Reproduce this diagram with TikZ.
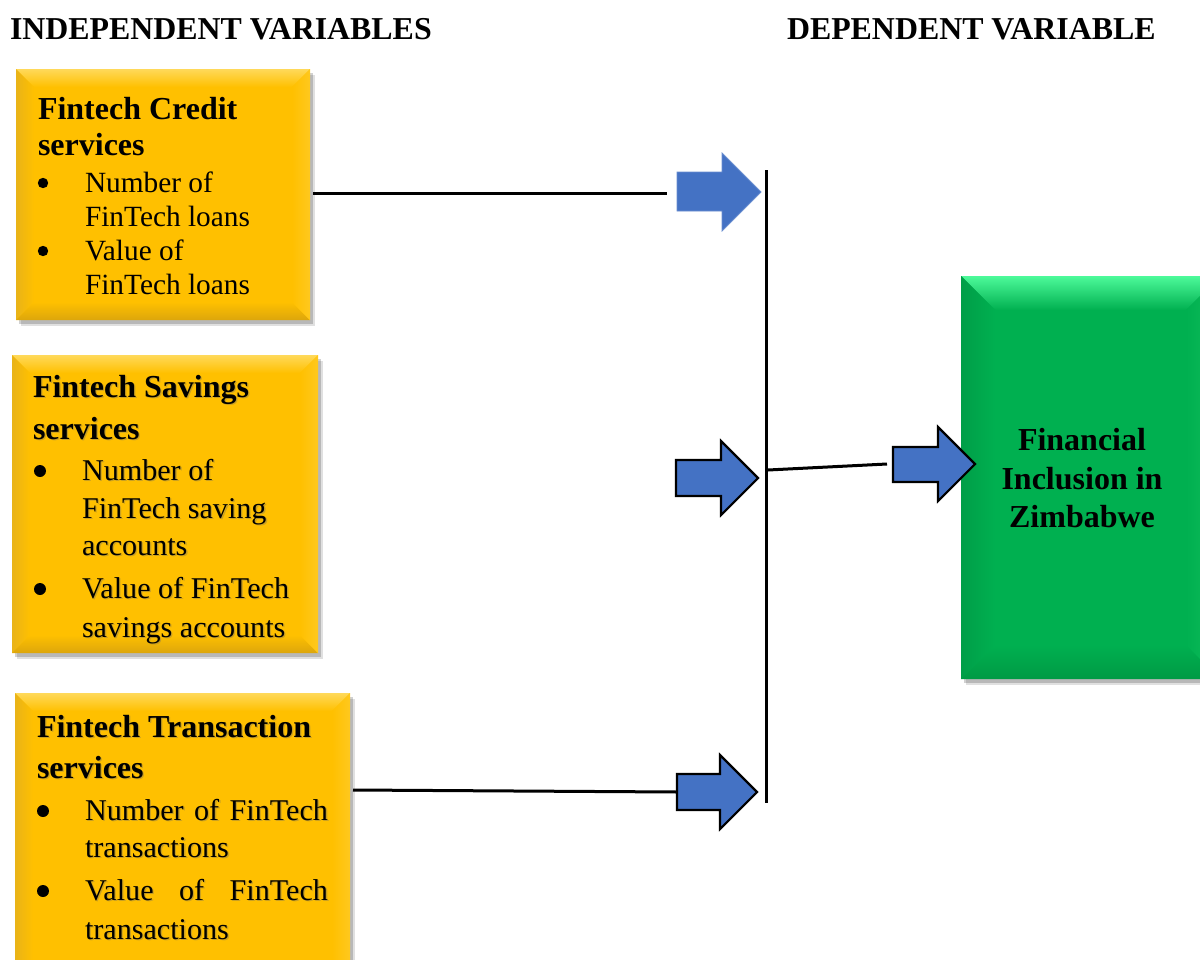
\documentclass[tikz,border=0pt]{standalone}
\usepackage{fontspec}
\setmainfont{Liberation Serif}
\usetikzlibrary{fit}
\definecolor{ymain}{HTML}{FFC000}
\definecolor{ytop}{HTML}{FFD95A}
\definecolor{yleft}{HTML}{E9B318}
\definecolor{ybot}{HTML}{DCA60C}
\definecolor{yright}{HTML}{FFC81E}
\definecolor{gmain}{HTML}{00B050}
\definecolor{gtop}{HTML}{4DFA9A}
\definecolor{gleft}{HTML}{009E48}
\definecolor{gbot}{HTML}{009A44}
\definecolor{gright}{HTML}{10BC5A}
\definecolor{arrblue}{HTML}{4472C4}
\newcommand\hdrfont{\fontsize{23.9}{28}\selectfont\bfseries}
\newcommand\ttlfont{\fontsize{24}{28}\selectfont\bfseries}
\newcommand\bodyfont{\fontsize{22}{26}\selectfont}
\newcommand\bodyfontb{\fontsize{22.6}{26}\selectfont}
% bevelled box: x0 y0 x1 y1 bevel colourprefix
\newcommand\bevelbox[6]{%
  \fill[black,opacity=.12] (#1+5,#2+6) rectangle (#3+5,#4+6);
  \fill[black,opacity=.18] (#1+3,#2+4) rectangle (#3+3,#4+4);
  \fill[#6main] (#1,#2) rectangle (#3,#4);
  \shade[top color=#6top, bottom color=#6main] (#1,#2) -- (#3,#2) -- (#3-#5,#2+#5) -- (#1+#5,#2+#5) -- cycle;
  \shade[left color=#6left, right color=#6main] (#1,#2) -- (#1+#5,#2+#5) -- (#1+#5,#4-#5) -- (#1,#4) -- cycle;
  \shade[top color=#6main, bottom color=#6bot] (#1,#4) -- (#1+#5,#4-#5) -- (#3-#5,#4-#5) -- (#3,#4) -- cycle;
  \shade[left color=#6main, right color=#6right] (#3,#2) -- (#3-#5,#2+#5) -- (#3-#5,#4-#5) -- (#3,#4) -- cycle;
}
% text line with soft shadow: name x y font text
\newcommand\shline[5]{%
  \node[txtline,font=#4,text=black!60,opacity=.35] at (#2+1.3,#3+1.3) {#5};
  \node[txtline,font=#4] (#1) at (#2,#3) {#5};
}
\begin{document}
\begin{tikzpicture}[x=0.75pt,y=-0.75pt,
  txtline/.style={anchor=base west,inner sep=0pt,outer sep=0pt},
  ctrline/.style={anchor=base,inner sep=0pt,outer sep=0pt},
  conn/.style={line width=2.25pt,black},
  barrow/.style={fill=arrblue,draw=black,line width=1.6pt,line join=miter},
  barrowplain/.style={fill=arrblue,draw=arrblue!80!white,line width=0.6pt},
  bul/.style={fill=black}]
\useasboundingbox (0,0) rectangle (1200,960);
\clip (0,0) rectangle (1200,960);

% headers
\node[txtline,font=\hdrfont] (hind) at (10,40) {INDEPENDENT VARIABLES};
\node[txtline,font=\hdrfont] (hdep) at (787,40) {DEPENDENT VARIABLE};

% boxes
\bevelbox{16}{69}{310}{320}{18}{y}
\node[fit={(16,69)(310,320)},inner sep=0pt] (credit) {};
\bevelbox{12}{355}{318}{653}{18}{y}
\node[fit={(12,355)(318,653)},inner sep=0pt] (savings) {};
\bevelbox{15}{693}{350}{985}{18}{y}
\node[fit={(15,693)(350,985)},inner sep=0pt] (trans) {};
\bevelbox{961}{276}{1220}{679}{34}{g}
\node[fit={(961,276)(1220,679)},inner sep=0pt] (fin) {};

% credit box text
\node[txtline,font=\ttlfont] (c1) at (38,119) {Fintech Credit};
\node[txtline,font=\ttlfont] (c2) at (38,155) {services};
\fill[bul] (43,183) circle (3.9pt);
\fill[bul] (43,251) circle (3.9pt);
\node[txtline,font=\bodyfont] (c3) at (85,192) {Number of};
\node[txtline,font=\bodyfont] (c4) at (85,226) {FinTech loans};
\node[txtline,font=\bodyfont] (c5) at (85,260) {Value of};
\node[txtline,font=\bodyfont] (c6) at (85,294) {FinTech loans};

% savings box text
\shline{s1}{33}{397}{\ttlfont}{Fintech Savings}
\shline{s2}{33}{439}{\ttlfont}{services}
\fill[bul] (40,471) circle (4.5pt);
\fill[bul] (40,589) circle (4.5pt);
\shline{s3}{82}{480}{\bodyfontb}{Number of}
\shline{s4}{82}{518}{\bodyfontb}{FinTech saving}
\shline{s5}{82}{555}{\bodyfontb}{accounts}
\shline{s6}{82}{598}{\bodyfontb}{Value of FinTech}
\shline{s7}{82}{637}{\bodyfontb}{savings accounts}

% transaction box text
\shline{t1}{37}{737}{\ttlfont}{Fintech Transaction}
\shline{t2}{37}{778}{\ttlfont}{services}
\fill[bul] (43,811) circle (4.5pt);
\fill[bul] (43,891) circle (4.5pt);
\shline{t3}{85}{820}{\bodyfontb}{\makebox[182.25pt][s]{Number of FinTech}}
\shline{t4}{85}{857}{\bodyfontb}{transactions}
\shline{t5}{85}{900}{\bodyfontb}{\makebox[182.25pt][s]{Value of FinTech}}
\shline{t6}{85}{939}{\bodyfontb}{transactions}

% green box text
\node[ctrline,font=\ttlfont] (f1) at (1082,450) {Financial};
\node[ctrline,font=\ttlfont] (f2) at (1082,489) {Inclusion in};
\node[ctrline,font=\ttlfont] (f3) at (1082,527) {Zimbabwe};

% block arrows
\draw[barrowplain] (677,172) -- (722,172) -- (722,153) -- (761,192) -- (722,231) -- (722,211) -- (677,211) -- cycle;
\node[fit={(677,153)(761,231)},inner sep=0pt] (arr1) {};
\draw[barrow] (676,460) -- (721,460) -- (721,441) -- (758,478) -- (721,515) -- (721,496) -- (676,496) -- cycle;
\node[fit={(676,441)(758,515)},inner sep=0pt] (arr2) {};
\draw[barrow] (677,774) -- (720,774) -- (720,755) -- (757,792) -- (720,829) -- (720,810) -- (677,810) -- cycle;
\node[fit={(677,755)(757,829)},inner sep=0pt] (arr3) {};
\draw[barrow] (893,447) -- (938,447) -- (938,427) -- (975,464) -- (938,501) -- (938,482) -- (893,482) -- cycle;
\node[fit={(893,427)(975,501)},inner sep=0pt] (arr4) {};

% connector end points
\coordinate (credOut) at (313,193);
\coordinate (arr1In) at (667,193);
\coordinate (transOut) at (353,790);
\coordinate (arr3In) at (677,792);
\coordinate (busTop) at (766,170);
\coordinate (busBot) at (766,803);
\coordinate (busOut) at (768,470);
\coordinate (arr4In) at (887,464);

% connectors
\draw[conn] (credOut) -- (arr1In);
\draw[conn] (transOut) -- (arr3In);
\draw[conn] (busTop) -- (busBot);
\draw[conn] (busOut) -- (arr4In);
\end{tikzpicture}
\end{document}
